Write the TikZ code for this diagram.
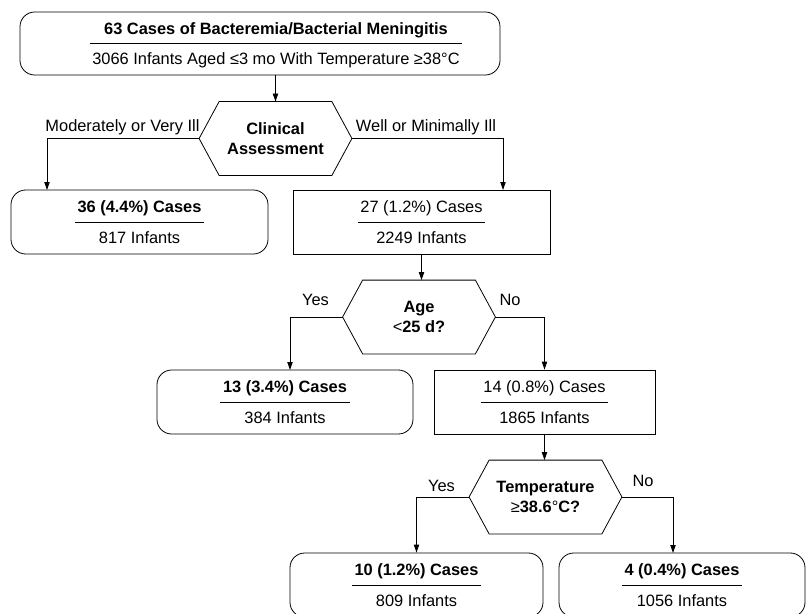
\documentclass[tikz,border=0pt]{standalone}
\usepackage{fontspec}
\setmainfont{Liberation Sans}
\usetikzlibrary{arrows.meta}

\setlength{\arrayrulewidth}{0.6pt}
\newcommand{\tally}[2]{\renewcommand{\arraystretch}{1.5}%
  \begin{tabular}{@{\hspace{2pt}}c@{\hspace{2pt}}}#1\\\hline #2\end{tabular}}

\tikzset{
  endbox/.style={draw, rounded corners=11pt, minimum height=48pt, inner sep=0pt},
  midbox/.style={draw, minimum height=48pt, inner sep=0pt},
  query/.style={minimum width=114pt, minimum height=54.75pt, inner sep=0pt, align=center,
    font=\fontsize{12.3}{14.8}\selectfont\bfseries},
  arr/.style={-{Triangle[length=6pt,width=4pt]}},
}

\begin{document}
\begin{tikzpicture}[x=0.75pt,y=0.75pt,yscale=-1,xscale=1,line width=0.6pt,
    font=\fontsize{12.3}{14.8}\selectfont]
        \clip (0,0) rectangle (812,613);

        \node [endbox, minimum width=360pt, minimum height=47.25pt] (all) at (260,43.5) {};
        \node (allt) at (276,43.5)
            {\tally{\textbf{63 Cases of Bacteremia/Bacterial Meningitis}}{3066 Infants Aged ≤3 mo With Temperature ≥38°C}};
        \node [query] (clin) at (275.5,138.5) {Clinical\\Assessment};
        \node [endbox, minimum width=192.75pt] (ill) at (139.5,222) {\tally{\textbf{36 (4.4\%) Cases}}{817 Infants}};
        \node [midbox, minimum width=192.75pt] (well) at (421.5,222) {\tally{27 (1.2\%) Cases}{2249 Infants}};
        \node [query] (age) at (419,317) {Age\\{\mdseries<}25 d?};
        \node [endbox, minimum width=192pt] (young) at (285,402) {\tally{\textbf{13 (3.4\%) Cases}}{384 Infants}};
        \node [midbox, minimum width=165.75pt] (old) at (544.5,402) {\tally{14 (0.8\%) Cases}{1865 Infants}};
        \node [query] (temp) at (545.5,497) {Temperature\\{\mdseries≥}38.6{\mdseries°}C?};
        \node [endbox, minimum width=189.75pt] (hot) at (416.5,585) {\tally{\textbf{10 (1.2\%) Cases}}{809 Infants}};
        \node [endbox, minimum width=184.5pt] (cool) at (682,585) {\tally{\textbf{4 (0.4\%) Cases}}{1056 Infants}};

        \foreach \q in {clin,age,temp}
            \draw (\q.west) -- ([xshift=15pt]\q.north west) -- ([xshift=-15pt]\q.north east)
                -- (\q.east) -- ([xshift=-15pt]\q.south east) -- ([xshift=15pt]\q.south west) -- cycle;

        \node (lill) at (122.5,127) {Moderately or Very Ill};
        \node (lwell) at (426,127) {Well or Minimally Ill};
        \node (lyoung) at (315.5,300) {Yes};
        \node (lold) at (510,300) {No};
        \node (lhot) at (441.5,486) {Yes};
        \node (lcool) at (643,481) {No};

        \coordinate (illin) at (47,190);
        \coordinate (wellin) at (503,190);
        \coordinate (youngin) at (290,370);
        \coordinate (coolin) at (673,553);

        \draw [arr] (all.south -| clin.north) -- (clin.north);
        \draw [arr] (clin.west) -| (illin);
        \draw [arr] (clin.east) -| (wellin);
        \draw [arr] (well.south) -- (well.south |- age.north);
        \draw [arr] (age.west) -| (youngin);
        \draw [arr] (age.east) -| (old.north);
        \draw [arr] (old.south) -- (old.south |- temp.north);
        \draw [arr] (temp.west) -| (hot.north);
        \draw [arr] (temp.east) -| (coolin);
    \end{tikzpicture}
\end{document}
